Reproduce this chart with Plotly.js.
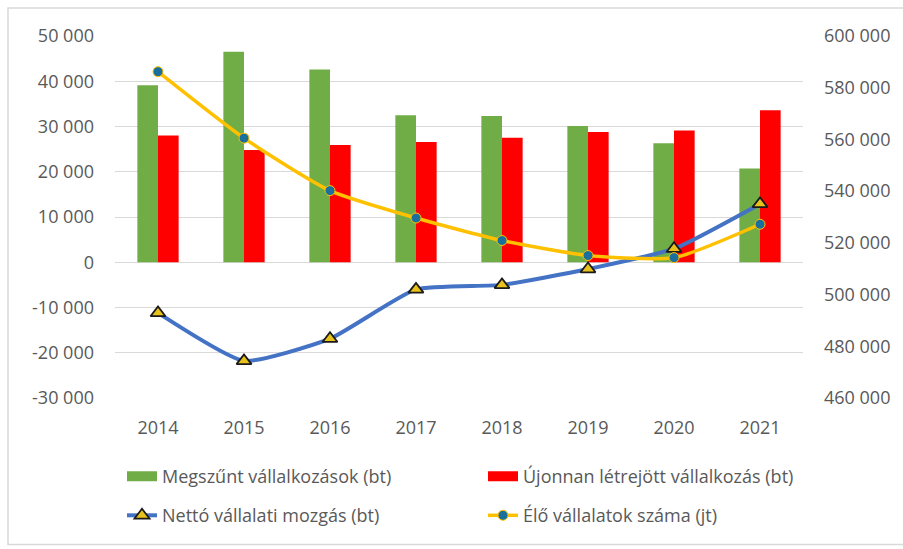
<!DOCTYPE html>
<html>
<head>
<meta charset="utf-8">
<script src="https://cdn.plot.ly/plotly-3.0.1.min.js"></script>
<style>html,body{margin:0;padding:0;background:#fff}#chart{width:903px;height:549px}</style>
</head>
<body>
<div id="chart"></div>
<script>
// ---- data ----
const years = ["2014","2015","2016","2017","2018","2019","2020","2021"];
const megszunt = [39100, 46500, 42600, 32500, 32300, 30100, 26300, 20700];
const ujonnan  = [28000, 24800, 25900, 26600, 27500, 28800, 29100, 33600];
const netto    = [-11200, -21800, -16900, -6000, -5000, -1500, 3000, 12900];
const elo      = [586200, 560500, 540200, 529600, 520900, 515100, 514300, 527200];
const leftTickVals  = [-30000, -20000, -10000, 0, 10000, 20000, 30000, 40000, 50000];
const leftTickText  = ["-30 000", "-20 000", "-10 000", "0", "10 000", "20 000", "30 000", "40 000", "50 000"];
const rightTickVals = [460000, 480000, 500000, 520000, 540000, 560000, 580000, 600000];
const rightTickText = ["460 000", "480 000", "500 000", "520 000", "540 000", "560 000", "580 000", "600 000"];
const names = ["Megszűnt vállalkozások (bt)", "Újonnan létrejött vállalkozás (bt)", "Nettó vállalati mozgás (bt)", "Élő vállalatok száma (jt)"];

// ---- styles ----
const GREEN = "#70AD47", RED = "#FF0000", BLUE = "#4472C4", GOLD = "#FFC000";
const TXT = "#595959", GRID = "#D9D9D9";
const FONT = "Open Sans";

const traces = [
  {type: "bar", x: years, y: megszunt, name: names[0], marker: {color: GREEN}, showlegend: false},
  {type: "bar", x: years, y: ujonnan, name: names[1], marker: {color: RED}, showlegend: false},
  {type: "scatter", mode: "lines+markers", x: years, y: netto, name: names[2], legend: "legend3",
   line: {color: BLUE, width: 4, shape: "spline", smoothing: 0.5},
   marker: {symbol: "triangle-up", size: 13, color: "#E8C21A", line: {color: "#1a1a1a", width: 1.8}}},
  {type: "scatter", mode: "lines+markers", x: years, y: elo, name: names[3], yaxis: "y2", legend: "legend4",
   line: {color: GOLD, width: 3.5, shape: "spline", smoothing: 0.6},
   marker: {symbol: "circle", size: 10, color: "#1B6F9C", line: {color: GOLD, width: 1}}},
  // legend-only swatches for bar series
  {type: "scatter", mode: "lines", x: [null], y: [null], name: names[0], legend: "legend",
   line: {color: GREEN, width: 11}, hoverinfo: "skip"},
  {type: "scatter", mode: "lines", x: [null], y: [null], name: names[1], legend: "legend2",
   line: {color: RED, width: 11}, hoverinfo: "skip"}
];

function leg(x, y) {
  return {x: x, y: y, xanchor: "left", yanchor: "middle", orientation: "h",
          font: {family: FONT, size: 18, color: TXT}, bgcolor: "rgba(0,0,0,0)", borderwidth: 0};
}

const layout = {
  width: 903, height: 549,
  margin: {l: 115, r: 100, t: 36, b: 151},
  paper_bgcolor: "#fff", plot_bgcolor: "#fff",
  font: {family: FONT, size: 18, color: TXT},
  barmode: "group", bargap: 0.52, bargroupgap: 0,
  xaxis: {type: "category", showgrid: false, zeroline: false, showline: false, ticks: "",
          ticklabelstandoff: 17, tickfont: {family: FONT, size: 18, color: TXT}},
  yaxis: {range: [-30000, 50000], tickvals: leftTickVals, ticktext: leftTickText,
          showgrid: true, gridcolor: GRID, gridwidth: 1, zeroline: false, showline: false, ticks: "",
          ticklabelstandoff: 20, tickfont: {family: FONT, size: 18, color: TXT}},
  yaxis2: {range: [460000, 600000], tickvals: rightTickVals, ticktext: rightTickText, overlaying: "y", side: "right",
           showgrid: false, zeroline: false, showline: false, ticks: "",
           ticklabelstandoff: 20, tickfont: {family: FONT, size: 18, color: TXT}},
  legend:  leg((122 - 115) / 688, (398.3 - 477) / 362.3),
  legend2: leg((483 - 115) / 688, (398.3 - 477) / 362.3),
  legend3: leg((122 - 115) / 688, (398.3 - 516) / 362.3),
  legend4: leg((483 - 115) / 688, (398.3 - 516) / 362.3),
  shapes: [{type: "rect", xref: "paper", yref: "paper",
            x0: (8 - 115) / 688, x1: (910 - 115) / 688,
            y0: -(545 - 398.3) / 362.3, y1: 1 + (36 - 8) / 362.3,
            line: {color: GRID, width: 1.5}, fillcolor: "rgba(0,0,0,0)", layer: "below"}],
  showlegend: true
};

Plotly.newPlot("chart", traces, layout, {displayModeBar: false, staticPlot: true});
</script>
</body>
</html>
